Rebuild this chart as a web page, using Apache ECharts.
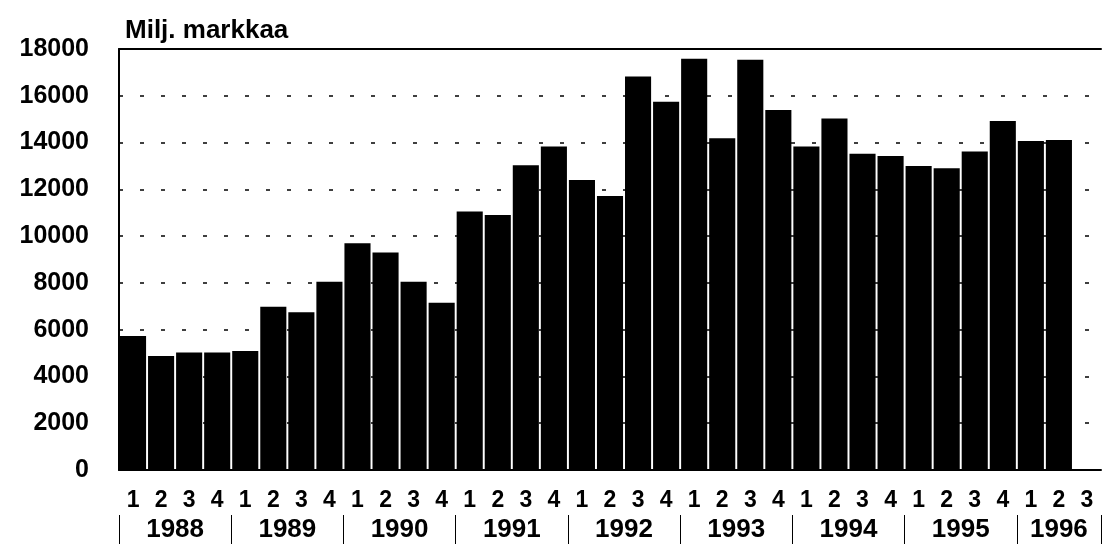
<!DOCTYPE html>
<html><head><meta charset="utf-8">
<script src="https://cdn.jsdelivr.net/npm/echarts@6/dist/echarts.min.js"></script>
<style>html,body{margin:0;padding:0;background:#fff}#c{width:1104px;height:544px}</style>
</head><body><div id="c"></div>
<script>
const quarterLabels = ['1','2','3','4','1','2','3','4','1','2','3','4','1','2','3','4','1','2','3','4','1','2','3','4','1','2','3','4','1','2','3','4','1','2','3'];
const years = ['1988','1989','1990','1991','1992','1993','1994','1995','1996'];
const values = [5730, 4870, 5020, 5020, 5090, 6980, 6750, 8050, 9700, 9300, 8050, 7150,
  11050, 10900, 13030, 13830, 12400, 11720, 16820, 15740, 17580, 14180, 17540, 15390,
  13830, 15030, 13520, 13430, 13000, 12900, 13620, 14920, 14070, 14110, null];
const yTicks = [0, 2000, 4000, 6000, 8000, 10000, 12000, 14000, 16000, 18000];
const unitLabel = 'Milj. markkaa';

const n = quarterLabels.length;
// year label positions (center of each year's quarter span, in category units)
const yearPos = {};
years.forEach((y, i) => {
  const start = i * 4, end = Math.min(start + 4, n);
  yearPos[((start + end) / 2).toFixed(1)] = y;
});

const font = 'Liberation Sans, Arial, sans-serif';
const chart = echarts.init(document.getElementById('c'));
chart.setOption({
  animation: false,
  backgroundColor: '#fff',
  title: { text: unitLabel, left: 120, top: 13,
    textStyle: { fontFamily: font, fontWeight: 'bold', fontSize: 26, color: '#000' } },
  grid: { left: 119, right: 0, top: 49, bottom: 74 },
  xAxis: [
    { type: 'category', data: quarterLabels, position: 'bottom',
      axisLine: { lineStyle: { color: '#000', width: 2 } },
      axisTick: { show: false },
      axisLabel: { interval: 0, margin: 19, fontFamily: font, fontWeight: 'bold', fontSize: 23, color: '#000' } },
    { type: 'value', min: 0, max: n, interval: 0.5, position: 'bottom', offset: 44,
      axisLine: { show: false }, axisTick: { show: false }, splitLine: { show: false },
      axisLabel: { margin: 3, fontFamily: font, fontWeight: 'bold', fontSize: 26, color: '#000',
        formatter: v => yearPos[Number(v).toFixed(1)] || '' } },
    { type: 'category', data: quarterLabels, position: 'bottom', offset: 45,
      axisLine: { show: false }, axisLabel: { show: false },
      axisTick: { show: true, length: 32, interval: i => i % 4 === 0,
        lineStyle: { color: '#000', width: 1 } } },
    { type: 'category', data: quarterLabels, position: 'top',
      axisLine: { lineStyle: { color: '#000', width: 2 } },
      axisTick: { show: false }, axisLabel: { show: false } }
  ],
  yAxis: {
    type: 'value', min: 0, max: 18000, interval: 2000,
    axisLine: { show: true, lineStyle: { color: '#000', width: 2 } },
    axisTick: { show: false },
    axisLabel: { margin: 30, fontFamily: font, fontWeight: 'bold', fontSize: 25, color: '#000',
      formatter: v => yTicks.includes(v) ? String(v) : '' },
    splitLine: { show: true, lineStyle: { color: '#000', width: 1.5, type: [4, 17] } }
  },
  series: [{
    type: 'bar', xAxisIndex: 0, data: values, barCategoryGap: '7%',
    itemStyle: { color: '#000' }
  }]
});
</script></body></html>
